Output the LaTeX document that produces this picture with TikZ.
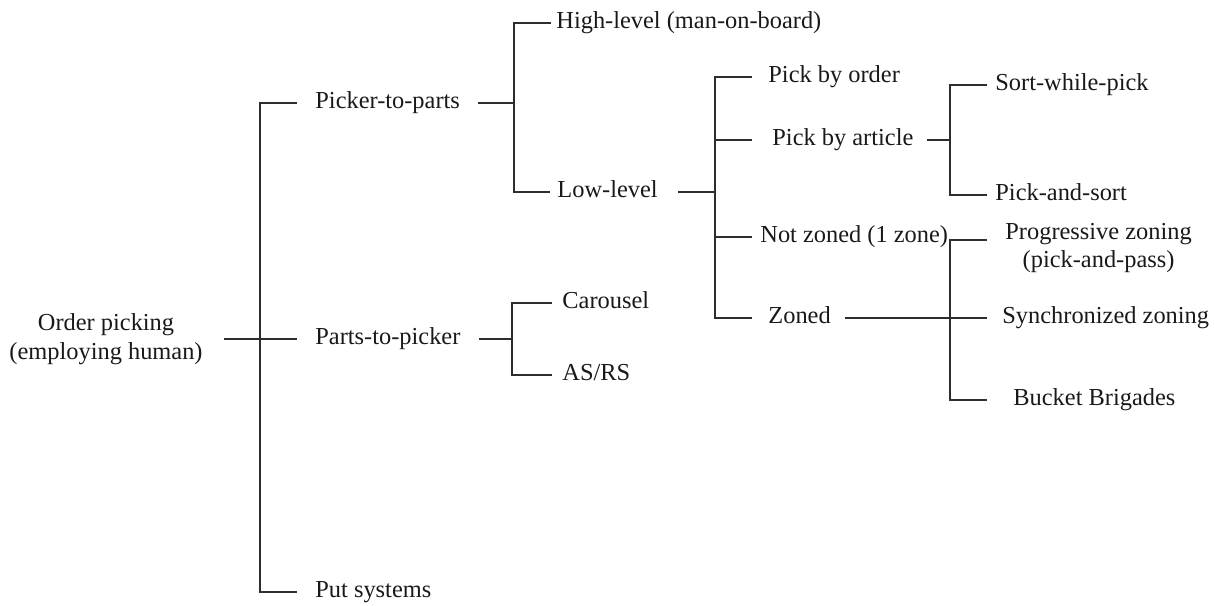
\documentclass[tikz,border=0pt]{standalone}
\usepackage{fontspec}
\setmainfont{Liberation Serif}
\usepackage{xcolor}
\usepackage{tikz}
\usetikzlibrary{calc}
\definecolor{treeline}{RGB}{45,45,45}
\definecolor{labeltext}{RGB}{25,25,25}

\begin{document}
\begin{tikzpicture}[
    x=0.5pt, y=-0.5pt,
    cat/.style={anchor=west, inner xsep=0pt, inner ysep=1pt, text height=1.6ex, text depth=0.4ex,
                font=\fontsize{12.2}{14.2}\selectfont, text=labeltext},
    multi/.style={inner xsep=0pt, inner ysep=1pt, align=center,
                  font=\fontsize{12.2}{14.2}\selectfont, text=labeltext},
    branch/.style={line width=0.65pt, draw=treeline}
]
\useasboundingbox (0,0) rectangle (1214,605);

% first level
\node[multi, anchor=east] (root) at (203,339) {Order picking\\(employing human)};
\node[cat] (p2t) at (315,103) {Picker-to-parts};
\node[cat] (p2p) at (315,339) {Parts-to-picker};
\node[cat] (put) at (315,592) {Put systems};

% second level
\node[cat] (high) at (556,23) {High-level (man-on-board)};
\node[cat] (low) at (557,192) {Low-level};
\node[cat] (carousel) at (562,303) {Carousel};
\node[cat] (asrs) at (562,375) {AS/RS};

% third level
\node[cat] (byorder) at (768,77) {Pick by order};
\node[cat] (byarticle) at (772,140) {Pick by article};
\node[cat] (notzoned) at (760,237) {Not zoned (1 zone)};
\node[cat] (zoned) at (768,318) {Zoned};

% fourth level
\node[cat] (swp) at (995,85) {Sort-while-pick};
\node[cat] (pas) at (995,195) {Pick-and-sort};
\node[multi, anchor=west] (prog) at (1005,248) {Progressive zoning\\(pick-and-pass)};
\node[cat] (sync) at (1002,318) {Synchronized zoning};
\node[cat] (bucket) at (1013,400) {Bucket Brigades};

\coordinate (jp2t) at (514,103);
\coordinate (jp2p) at (512,339);
\coordinate (jlow) at (715,192);
\coordinate (jart) at (950,140);
\coordinate (jzone) at (950,318);

% trunk
\draw[branch] ([xshift=-9pt]p2t.west) -| ([xshift=-27.5pt]put.west) -- ([xshift=-9pt]put.west);
\draw[branch] ([xshift=10.5pt]root.east) -- ([xshift=-9pt]p2p.west);

% picker-to-parts
\draw[branch] ([xshift=9pt]p2t.east) -- (jp2t);
\draw[branch] ([xshift=-2.5pt]high.west) -| (jp2t |- low.west) -- ([xshift=-3.5pt]low.west);

% parts-to-picker
\draw[branch] ([xshift=9pt]p2p.east) -- (jp2p);
\draw[branch] ([xshift=-5pt]carousel.west) -| (jp2p |- asrs.west) -- ([xshift=-5pt]asrs.west);

% low-level
\draw[branch] ([xshift=10pt]low.east) -- (jlow);
\draw[branch] ([xshift=-8pt]byorder.west) -| (jlow |- zoned.west) -- ([xshift=-8pt]zoned.west);
\draw[branch] (jlow |- byarticle.west) -- ([xshift=-10pt]byarticle.west);
\draw[branch] (jlow |- notzoned.west) -- ([xshift=-4pt]notzoned.west);

% pick by article
\draw[branch] ([xshift=6.5pt]byarticle.east) -- (jart);
\draw[branch] ([xshift=-4pt]swp.west) -| (jart |- pas.west) -- ([xshift=-4pt]pas.west);

% zoned
\draw[branch] ([xshift=7pt]zoned.east) -- ([xshift=-7.5pt]sync.west);
\draw[branch] ([xshift=-9pt,yshift=4pt]prog.west) -| (jzone |- bucket.west) -- ([xshift=-13pt]bucket.west);
\end{tikzpicture}
\end{document}
